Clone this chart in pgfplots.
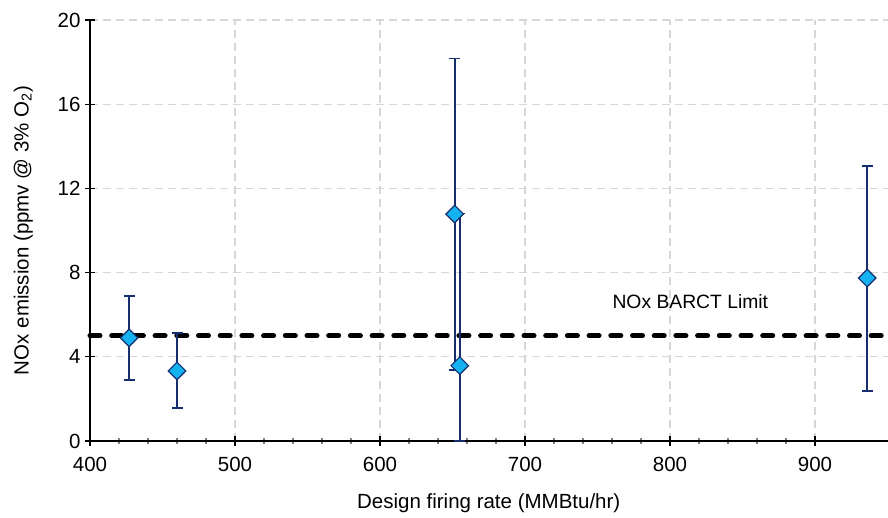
\documentclass[border=0pt]{standalone}
\usepackage{pgfplots}
\pgfplotsset{compat=1.18}
\usepackage{fontspec}
\setmainfont{Liberation Sans}
\definecolor{mfill}{RGB}{20,178,240}
\definecolor{navy}{RGB}{22,45,110}
\definecolor{gridc}{RGB}{215,215,215}
\begin{document}
\begin{tikzpicture}
\begin{axis}[
  name=ax,
  scale only axis,
  width=797.5pt, height=421pt,
  xmin=400, xmax=950, ymin=0, ymax=20,
  xtick={400,500,600,700,800,900},
  ytick={0,4,8,12,16,20},
  minor x tick num=4,
  axis x line*=bottom, axis y line*=left,
  axis line style={line width=1.3pt, black, -},
  tick align=center,
  major tick length=10pt,
  minor tick length=6pt,
  minor x tick style={line width=1.2pt},
  major tick style={line width=1.3pt, black},
  ymajorgrids, xmajorgrids,
  major grid style={gridc, line width=1.2pt, dash pattern=on 8pt off 5pt},
  /pgf/number format/assume math mode=true,
  tick label style={font=\fontsize{20.5}{24}\selectfont},
  yticklabel style={xshift=-1pt},
  xticklabel style={yshift=-8pt},
  label style={font=\fontsize{20.5}{24}\selectfont},
  xlabel={Design firing rate (MMBtu/hr)},
  ylabel={NOx emission (ppmv @ 3\% O\textsubscript{2})},
  xlabel style={yshift=-15pt},
  ylabel style={yshift=18pt},
  clip=false,
]
\addplot[black, line width=5pt, dash pattern=on 10pt off 11.7pt, line cap=round] coordinates {(400,5) (948,5)};
\addplot[
  only marks,
  mark=square*,
  mark size=6.2pt,
  mark options={rotate=45, fill=mfill, draw=navy, line width=1.2pt},
  error bars/.cd,
    y dir=both, y explicit,
    error bar style={line width=1.8pt, navy},
    error mark options={rotate=90, mark size=5.5pt, line width=1.6pt, navy},
] table[x=x, y=y, y error plus=ep, y error minus=em] {
x    y     ep    em
427  4.90  2.00  2.00
460  3.33  1.80  1.76
651.5 10.78 7.39 7.40
655  3.58  7.22  3.58
936  7.74  5.31  5.36
};
\node[font=\fontsize{19.3}{23}\selectfont] at (axis cs:814,6.6) {NOx BARCT Limit};
\end{axis}
\pgfresetboundingbox
\path ([xshift=-90pt,yshift=-77pt]ax.south west) rectangle ([xshift=0.5pt,yshift=20pt]ax.north east);
\end{tikzpicture}
\end{document}
